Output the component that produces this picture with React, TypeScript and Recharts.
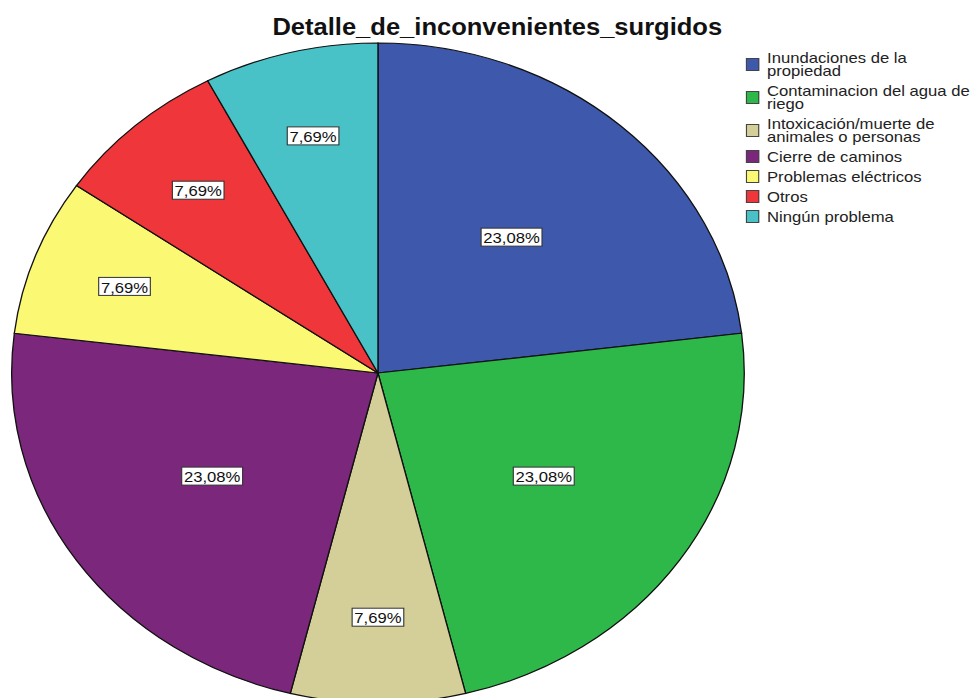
import { Cell, Pie, PieChart } from "recharts";

// Pie of "Detalle_de_inconvenientes_surgidos" (SPSS-style), 13 respondents.
// The original image is stretched horizontally, so the whole chart is drawn
// at native size and widened with scaleX.

const categories = [
  "Inundaciones de la propiedad",
  "Contaminacion del agua de riego",
  "Intoxicación/muerte de animales o personas",
  "Cierre de caminos",
  "Problemas eléctricos",
  "Otros",
  "Ningún problema",
];
const counts = [3, 3, 1, 3, 1, 1, 1];
const colors = [
  "#3e58ab",
  "#2eb84a",
  "#d4ce98",
  "#7b277b",
  "#fbf874",
  "#ef363b",
  "#48c2c6",
];
const title = "Detalle_de_inconvenientes_surgidos";

const total = counts.reduce((a, b) => a + b, 0);
const data = categories.map((name, i) => ({ name, value: counts[i] }));
const fmtPct = (v: number) => `${((v / total) * 100).toFixed(2).replace(".", ",")}%`;

const STRETCH = 1.11;
const FONT = "Arial, 'Liberation Sans', sans-serif";
const RAD = Math.PI / 180;

const charW = (s: string) =>
  s.split("").reduce((w, ch) => w + (ch === "," ? 0.278 : ch === "%" ? 0.889 : 0.556), 0);

function SliceLabel(props: any) {
  const { cx, cy, midAngle, outerRadius, percent, value } = props;
  const k = percent > 0.2 ? 0.55 : 0.74;
  const x = cx + outerRadius * k * Math.cos(-midAngle * RAD);
  const y = cy + outerRadius * k * Math.sin(-midAngle * RAD);
  const txt = fmtPct(value);
  const w = charW(txt) * 15 + 4;
  return (
    <g>
      <rect
        x={x - w / 2}
        y={y - 9}
        width={w}
        height={18}
        fill="#ffffff"
        stroke="#333"
        strokeWidth={1}
      />
      <text
        x={x}
        y={y + 1}
        textAnchor="middle"
        dominantBaseline="central"
        fontFamily={FONT}
        fontSize={15}
        fill="#111"
      >
        {txt}
      </text>
    </g>
  );
}

export default function App() {
  return (
    <div style={{ position: "relative", width: 975, height: 698, overflow: "hidden", background: "#fff" }}>
      <style>{`body{margin:0}`}</style>
      <div
        style={{
          position: "absolute",
          left: 0,
          top: 0,
          width: 878,
          height: 698,
          transform: `scaleX(${STRETCH})`,
          transformOrigin: "0 0",
        }}
      >
        <div
          style={{
            position: "absolute",
            left: 0,
            top: 16,
            width: 896,
            textAlign: "center",
            fontFamily: FONT,
            fontWeight: "bold",
            fontSize: 23,
            lineHeight: 1,
            color: "#111",
          }}
        >
          {title}
        </div>
        <div style={{ position: "absolute", left: 0, top: 0 }}>
          <PieChart width={680} height={698} margin={{ top: 0, right: 0, bottom: 0, left: 0 }}>
            <Pie
              data={data}
              dataKey="value"
              nameKey="name"
              cx={340.5}
              cy={373}
              outerRadius={330}
              startAngle={90}
              endAngle={-270}
              stroke="#111"
              strokeWidth={1.2}
              label={SliceLabel}
              labelLine={false}
              isAnimationActive={false}
            >
              {data.map((d, i) => (
                <Cell key={d.name} fill={colors[i]} />
              ))}
            </Pie>
          </PieChart>
        </div>
        <div style={{ position: "absolute", left: 672, top: 51, width: 206, fontFamily: FONT }}>
          {categories.map((c, i) => (
            <div key={c} style={{ display: "flex", alignItems: "center", marginBottom: 7 }}>
              <div
                style={{
                  width: 10,
                  height: 11,
                  background: colors[i],
                  border: "1px solid #444",
                  flex: "none",
                  marginRight: 7,
                }}
              />
              <div style={{ fontSize: 15, lineHeight: "13px", color: "#222", width: 187 }}>{c}</div>
            </div>
          ))}
        </div>
      </div>
    </div>
  );
}
